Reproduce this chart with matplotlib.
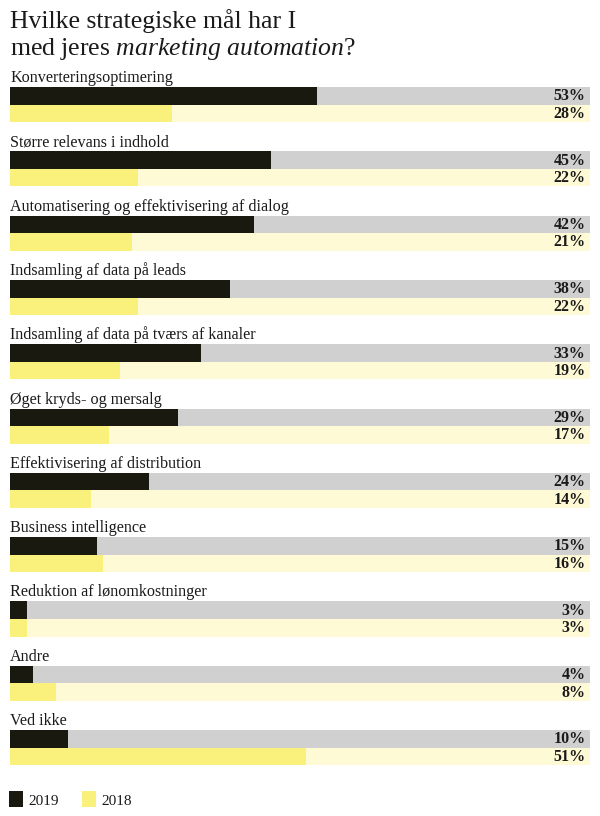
import matplotlib.pyplot as plt
from matplotlib.patches import Rectangle
from matplotlib.transforms import blended_transform_factory

plt.rcParams['font.family'] = ['Liberation Serif', 'DejaVu Serif']
plt.rcParams['mathtext.fontset'] = 'custom'
plt.rcParams['mathtext.rm'] = 'Liberation Serif'
plt.rcParams['mathtext.it'] = 'Liberation Serif:italic'

categories = [
    'Konverteringsoptimering',
    'Større relevans i indhold',
    'Automatisering og effektivisering af dialog',
    'Indsamling af data på leads',
    'Indsamling af data på tværs af kanaler',
    'Øget kryds- og mersalg',
    'Effektivisering af distribution',
    'Business intelligence',
    'Reduktion af lønomkostninger',
    'Andre',
    'Ved ikke',
]
v2019 = [53, 45, 42, 38, 33, 29, 24, 15, 3, 4, 10]
v2018 = [28, 22, 21, 22, 19, 17, 14, 16, 3, 8, 51]
series = ['2019', '2018']

dark = '#1a1910'
grey = '#d0d0d0'
yellow = '#faf07c'
light = '#fefad5'

W, H = 600, 816
fig = plt.figure(figsize=(W / 100, H / 100), dpi=100)
# axes spans full height, x from 10px to 590px; y in pixels from top
ax = fig.add_axes([10 / W, 0, 580 / W, 1])
ax.set_xlim(0, 100)
ax.set_ylim(H, 0)
ax.axis('off')

top0 = 87
step = 64.3
bh = 17.6

for i, cat in enumerate(categories):
    y1 = top0 + step * i
    y2 = y1 + bh
    ax.barh(y1, 100, height=bh, align='edge', color=grey, lw=0)
    ax.barh(y1, v2019[i], height=bh, align='edge', color=dark, lw=0)
    ax.barh(y2, 100, height=bh, align='edge', color=light, lw=0)
    ax.barh(y2, v2018[i], height=bh, align='edge', color=yellow, lw=0)
    ax.text(0, y1 - 5, cat, fontsize=11.6, color='#1a1a1a', va='baseline', ha='left')
    ax.text(99.2, y1 + bh / 2 + 0.5, f'{v2019[i]}%', fontsize=11.5, fontweight='bold',
            color='#1a1a1a', va='center', ha='right')
    ax.text(99.2, y2 + bh / 2 + 0.5, f'{v2018[i]}%', fontsize=11.5, fontweight='bold',
            color='#1a1a1a', va='center', ha='right')

# title
ax.text(0, 28, 'Hvilke strategiske mål har I', fontsize=18.5, color='#1a1a1a',
        va='baseline', ha='left')
ax.text(0, 55, 'med jeres $\\it{marketing\\ automation}$?', fontsize=18.5, color='#1a1a1a',
        va='baseline', ha='left')

# legend
tr = blended_transform_factory(fig.transFigure, ax.transData)
for x0, c, lab in [(9, dark, series[0]), (82, yellow, series[1])]:
    ax.add_patch(Rectangle((x0 / W, 791), 14 / W, 16, transform=tr, color=c, lw=0,
                           clip_on=False))
    ax.text((x0 + 19) / W, 805, lab, transform=tr, fontsize=11, color='#1a1a1a',
            va='baseline', ha='left')

fig.savefig('out.png', dpi=100)
